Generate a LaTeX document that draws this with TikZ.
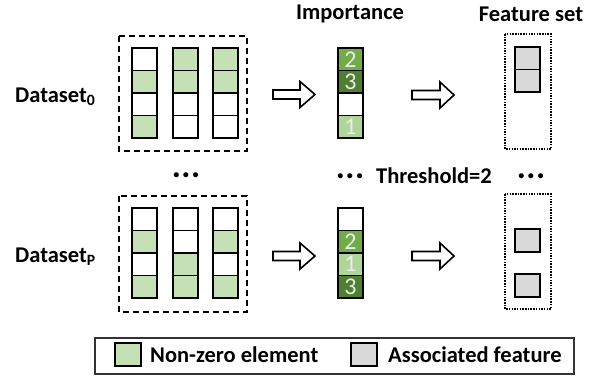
\documentclass[tikz,border=0pt]{standalone}
\usepackage{fontspec}
\setmainfont{Carlito}
\definecolor{nzgreen}{HTML}{C5E0B4}
\definecolor{imp1}{HTML}{B0D59A}
\definecolor{imp2}{HTML}{70AD47}
\definecolor{imp3}{HTML}{4E7F32}
\definecolor{featgray}{HTML}{D9D9D9}
\begin{document}
\begin{tikzpicture}[x=1pt,y=-1pt,
  cell/.style={draw=black, line width=1.5pt, minimum width=25pt, minimum height=22.5pt, inner sep=0pt, outer sep=0pt},
  icell/.style={cell, text=white!92!black, font=\fontsize{24}{24}\selectfont},
  fcell/.style={cell, fill=featgray},
  dashbox/.style={draw=black, line width=1.5pt, dash pattern=on 6pt off 4pt},
  dotbox/.style={draw=black, line width=1.5pt, dash pattern=on 1.5pt off 1.2pt},
  lbl/.style={font=\fontsize{22.5}{24}\selectfont\bfseries, inner sep=0pt},
  dotslbl/.style={font=\fontsize{34}{34}\selectfont\bfseries, inner sep=0pt, anchor=base},
  blockarrow/.style={draw=black, line width=1.6pt, fill=white, line join=miter}
]
\useasboundingbox (0,0) rectangle (590,376);
\fill[white] (0,0) rectangle (590,376);

% ---------- dashed boxes ----------
\draw[dashbox] (119,36) rectangle (247,151);
\draw[dashbox] (119,196) rectangle (247,312);

% ---------- top data matrix ----------
\foreach \c/\x/\pa/\pb/\pc/\pd in {1/144.5/white/nzgreen/white/nzgreen, 2/185.5/nzgreen/nzgreen/white/white, 3/225.5/nzgreen/nzgreen/white/white}{
  \node[cell, fill=\pa] (t\c a) at (\x,59.25) {};
  \node[cell, fill=\pb] (t\c b) at (\x,81.75) {};
  \node[cell, fill=\pc] (t\c c) at (\x,104.25) {};
  \node[cell, fill=\pd] (t\c d) at (\x,126.75) {};
}
% ---------- bottom data matrix ----------
\foreach \c/\x/\pa/\pb/\pc/\pd in {1/144.5/white/nzgreen/white/nzgreen, 2/185.5/white/white/nzgreen/nzgreen, 3/225.5/white/nzgreen/white/nzgreen}{
  \node[cell, fill=\pa] (b\c a) at (\x,219.25) {};
  \node[cell, fill=\pb] (b\c b) at (\x,241.75) {};
  \node[cell, fill=\pc] (b\c c) at (\x,264.25) {};
  \node[cell, fill=\pd] (b\c d) at (\x,286.75) {};
}

% ---------- labels ----------
\node[lbl, anchor=west] (ds0) at (15,97) {Dataset\textsubscript{0}};
\node[lbl, anchor=west] (dsp) at (15,257) {Dataset\textsubscript{P}};
\node[lbl] (timp) at (350,14) {Importance};
\node[lbl] (tfeat) at (531,14) {Feature set};

% ---------- importance columns ----------
\node[icell, fill=imp2] (ia) at (350.5,59.25) {2};
\node[icell, fill=imp3] (ib) at (350.5,81.75) {3};
\node[icell, fill=white] (ic) at (350.5,104.25) {};
\node[icell, fill=imp1] (id) at (350.5,126.75) {1};

\node[icell, fill=white] (ja) at (350.5,219.25) {};
\node[icell, fill=imp2] (jb) at (350.5,241.75) {2};
\node[icell, fill=imp1] (jc) at (350.5,264.25) {1};
\node[icell, fill=imp3] (jd) at (350.5,286.75) {3};

% ---------- feature sets ----------
\draw[dotbox] (505,34) rectangle (551,149);
\draw[dotbox] (505,194) rectangle (551,309);
\node[fcell] (fa) at (527.5,58.25) {};
\node[fcell] (fb) at (527.5,80.75) {};
\node[fcell, minimum height=23pt] (ga) at (527.5,240.5) {};
\node[fcell, minimum height=23pt] (gb) at (527.5,285.5) {};

% ---------- block arrows ----------
\foreach \xs/\xh/\xe/\y in {273/300/315/94.5, 412/440/454/95, 273/300/315/256, 412/440/454/256}{
  \draw[blockarrow] (\xs,\y-4.5) -- (\xh,\y-4.5) -- (\xh,\y-13) -- (\xe,\y) -- (\xh,\y+13) -- (\xh,\y+4.5) -- (\xs,\y+4.5) -- cycle;
}

% ---------- dots and threshold ----------
\node[dotslbl] (dots1) at (186,177.5) {.\kern0.5pt.\kern0.5pt.};
\node[dotslbl] (dots2) at (350,178.5) {.\kern0.5pt.\kern0.5pt.};
\node[dotslbl] (dots3) at (531,178.5) {.\kern0.5pt.\kern0.5pt.};
\node[lbl] (thr) at (434,176) {Threshold=2};

% ---------- legend ----------
\draw[line width=1.2pt, draw=black!80] (95,338) rectangle (574,374);
\node[cell, fill=nzgreen, minimum width=26pt, minimum height=23pt] (lg) at (128,354.5) {};
\node[lbl, anchor=west] (lgt) at (150,355) {Non-zero element};
\node[cell, fill=featgray, minimum width=26pt, minimum height=23pt] (lf) at (364,354.5) {};
\node[lbl, anchor=west] (lft) at (388,355) {Associated feature};
\end{tikzpicture}
\end{document}
